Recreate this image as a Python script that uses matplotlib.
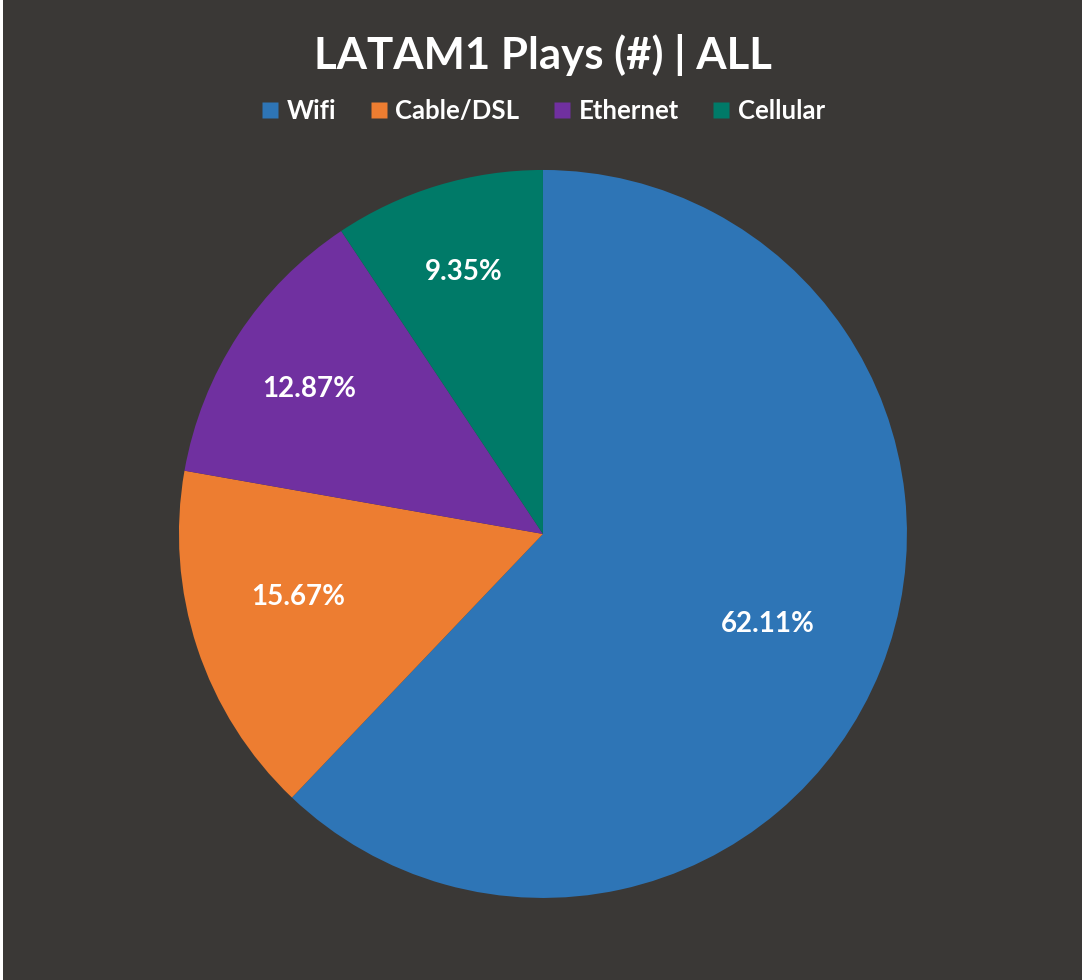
import numpy as np
import matplotlib
matplotlib.use("Agg")
import matplotlib.pyplot as plt
from matplotlib.lines import Line2D
from matplotlib.patches import Rectangle

plt.rcParams['font.family'] = ['Lato', 'DejaVu Sans']

# data
labels = ['Wifi', 'Cable/DSL', 'Ethernet', 'Cellular']
shares = [62.11, 15.67, 12.87, 9.35]
colors = ['#2E75B6', '#ED7D31', '#7030A0', '#007A68']
title = 'LATAM1 Plays (#) | ALL'

bg = '#3A3836'
fig = plt.figure(figsize=(10.82, 9.8), dpi=100, facecolor=bg)
# thin white strip on the left edge
fig.patches.append(Rectangle((0, 0), 3 / 1082, 1, transform=fig.transFigure,
                             facecolor='white', edgecolor='none', zorder=-1))

ax = fig.add_axes([0.1654, 0.0837, 0.6728, 0.7429])
ax.set_facecolor(bg)
wedges, _ = ax.pie(shares, colors=colors, startangle=90, counterclock=False,
                   wedgeprops=dict(linewidth=0))
ax.set_xlim(-1, 1)
ax.set_ylim(-1, 1)
ax.set_aspect('equal')
ax.axis('off')

# percentage labels near each wedge's mid angle (Excel "best fit" look)
label_r = [0.665, 0.695, 0.755, 0.753]
label_dang = [0, -3.8, 1.3, 0]
for w, val, r, da in zip(wedges, shares, label_r, label_dang):
    mid = np.deg2rad((w.theta1 + w.theta2) / 2 + da)
    ax.text(r * np.cos(mid), r * np.sin(mid), f'{val:.2f}%', ha='center', va='center',
            color='white', fontsize=20, fontweight='bold')

fig.text(0.502, 0.944, title, ha='center', va='center', color='white',
         fontsize=31.5, fontweight='bold')

handles = [Line2D([], [], marker='s', linestyle='none', markersize=11.5,
                  markerfacecolor=c, markeredgecolor='none') for c in colors]
fig.legend(handles, labels, loc='center', bbox_to_anchor=(0.5, 0.887), ncol=4,
           frameon=False, labelcolor='white', prop={'weight': 'bold', 'size': 18.5},
           handletextpad=0.15, columnspacing=1.15, handlelength=1.0)

fig.savefig('out.png', dpi=100, facecolor=bg)
